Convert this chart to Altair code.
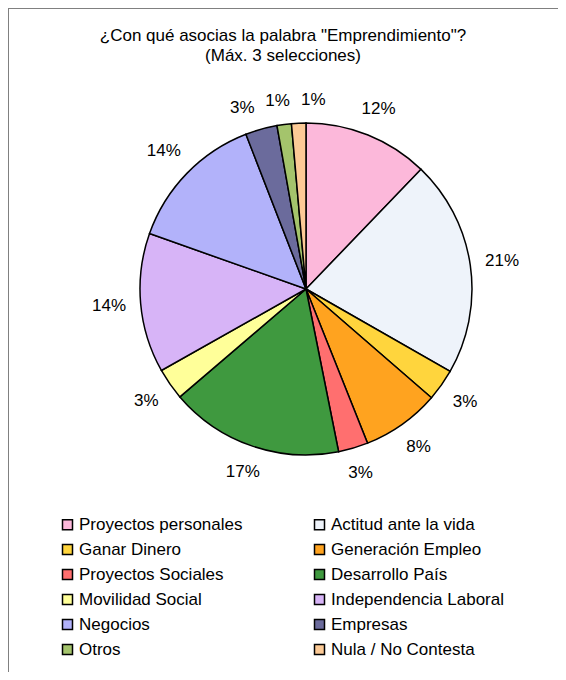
import math
import altair as alt
import pandas as pd

categories = [
    "Proyectos personales", "Actitud ante la vida", "Ganar Dinero",
    "Generación Empleo", "Proyectos Sociales", "Desarrollo País",
    "Movilidad Social", "Independencia Laboral", "Negocios",
    "Empresas", "Otros", "Nula / No Contesta",
]
values = [12.2, 21.1, 3.1, 7.6, 2.9, 16.9, 3.1, 13.6, 13.7, 3.1, 1.4, 1.4]
colors = [
    "#fcb8da", "#eef3fa", "#ffd53d", "#ffa31f", "#ff6f6f", "#3f993f",
    "#ffff99", "#d7b4f7", "#b2b2fa", "#6b6b9c", "#a4c46c", "#fcca96",
]
title_lines = ['¿Con qué asocias la palabra "Emprendimiento"?', "(Máx. 3 selecciones)"]

FONT = "Liberation Sans"
FS = 17
W, H = 550, 664
CX, CY, R = 298, 281, 166
LABEL_GAP = 14          # distance from pie edge to label box
MIN_SEP = 3.0           # minimum label separation, in value units

# label placement (Excel-like): mid-angle, small labels spread apart
total = sum(values)
mids, cum = [], 0.0
for v in values:
    mids.append(cum + v / 2)
    cum += v
pos = mids[:]
for _ in range(300):
    for i in range(len(pos) - 1):
        if pos[i + 1] - pos[i] < MIN_SEP:
            c = (pos[i] + pos[i + 1]) / 2
            pos[i], pos[i + 1] = c - MIN_SEP / 2, c + MIN_SEP / 2

labels_txt = [f"{round(v)}%" for v in values]
lab_theta, lab_radius = [], []
for p, t in zip(pos, labels_txt):
    a = p / total * 2 * math.pi
    ndig = len(t) - 1
    hw = (0.556 * ndig + 0.889) * FS / 2
    hh = FS / 2
    lab_theta.append(a)
    lab_radius.append(R + LABEL_GAP + hw * abs(math.sin(a)) + hh * abs(math.cos(a)))

df = pd.DataFrame({
    "cat": categories,
    "value": values,
    "idx": list(range(len(categories))),
    "label": labels_txt,
    "lab_theta": lab_theta,
    "lab_radius": lab_radius,
})

# legend is laid out column by column: first column holds the even entries
legend_order = categories[0::2] + categories[1::2]
legend_colors = colors[0::2] + colors[1::2]
color_scale = alt.Scale(domain=legend_order, range=legend_colors)

pie = alt.Chart(df).mark_arc(radius=R, stroke="black", strokeWidth=1.5).encode(
    theta=alt.Theta("value:Q", stack=True),
    order=alt.Order("idx:Q"),
    x=alt.value(CX),
    y=alt.value(CY),
    color=alt.Color(
        "cat:N",
        scale=color_scale,
        legend=alt.Legend(
            title=None,
            orient="none",
            legendX=51,
            legendY=508,
            columns=2,
            columnPadding=68,
            rowPadding=7,
            symbolType="square",
            symbolSize=100,
            symbolStrokeColor="black",
            symbolStrokeWidth=1.5,
            labelFont=FONT,
            labelFontSize=FS,
            labelColor="black",
            labelOffset=3,
            labelLimit=400,
        ),
    ),
)

labels = alt.Chart(df).mark_text(font=FONT, fontSize=FS, color="black").encode(
    theta=alt.Theta("lab_theta:Q", scale=None),
    radius=alt.Radius("lab_radius:Q", scale=None),
    x=alt.value(CX),
    y=alt.value(CY),
    text="label:N",
)

frame_df = pd.DataFrame({"k": [0]})
top_line = alt.Chart(frame_df).mark_rule(color="#808080", strokeWidth=2).encode(
    x=alt.value(0), x2=alt.value(W), y=alt.value(0)
)
left_line = alt.Chart(frame_df).mark_rule(color="#808080", strokeWidth=2).encode(
    x=alt.value(0), y=alt.value(0), y2=alt.value(H)
)

chart = alt.layer(top_line, left_line, pie, labels).resolve_scale(
    theta="independent", radius="independent"
).properties(
    width=W,
    height=H,
    autosize=alt.AutoSizeParams(type="none"),
    padding=0,
    title=alt.TitleParams(
        text=title_lines,
        font=FONT,
        fontSize=FS,
        fontWeight="normal",
        color="black",
        anchor="middle",
        lineHeight=20,
        offset=-58,
    ),
).configure_view(stroke=None)

chart.save("out.html", embed_options={"renderer": "svg", "actions": False})
